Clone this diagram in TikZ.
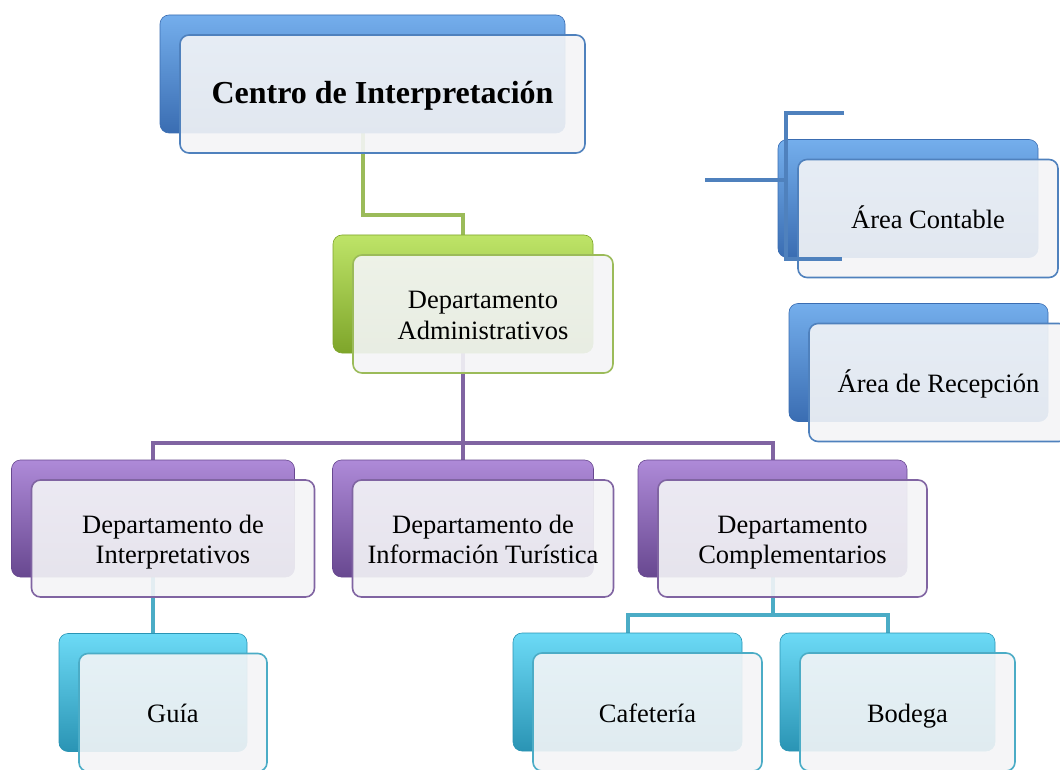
\documentclass[tikz,border=0pt]{standalone}
\usepackage{fontspec}
\setmainfont{Liberation Serif}
\usetikzlibrary{calc}
\pgfdeclarelayer{paper}
\pgfdeclarelayer{bg}
\pgfsetlayers{paper,bg,main}
\definecolor{bluetop}{HTML}{74AEEC}
\definecolor{bluemid}{HTML}{4A86D0}
\definecolor{bluebot}{HTML}{3A6DB2}
\definecolor{blueline}{HTML}{4F81BD}
\definecolor{greentop}{HTML}{BEE468}
\definecolor{greenmid}{HTML}{9CC83E}
\definecolor{greenbot}{HTML}{7EA52A}
\definecolor{greenline}{HTML}{9BBB59}
\definecolor{purpletop}{HTML}{AE8AD8}
\definecolor{purplemid}{HTML}{8A63B2}
\definecolor{purplebot}{HTML}{684890}
\definecolor{purpleline}{HTML}{8064A2}
\definecolor{cyantop}{HTML}{6CDAF6}
\definecolor{cyanmid}{HTML}{3BBCDF}
\definecolor{cyanbot}{HTML}{2A94B4}
\definecolor{cyanline}{HTML}{4BACC6}
\definecolor{frontfill}{HTML}{F4F5F7}
\tikzset{
  backbox/.style={rounded corners=9pt, top color=#1top, middle color=#1mid, bottom color=#1bot,
    draw=#1bot, line width=0.6pt, inner sep=0pt},
  frontbox/.style={rounded corners=9pt, draw=#1line, line width=1.6pt,
    fill=frontfill, fill opacity=0.9, text opacity=1, align=center,
    inner sep=0pt, font=\fontsize{26.5}{30.5}\selectfont},
  conn/.style={line width=4pt, draw=#1line},
}
\newcommand\orgbox[7]{%
  \node[backbox=#6, minimum width=#4pt, minimum height=#5pt] (#1B) at (#2,#3) {};
  \node[frontbox=#6, minimum width=#4pt, minimum height=#5pt] (#1F) at (#2+20,#3+20) {\rule{0pt}{29.5pt}#7\strut};
}
\begin{document}
\begin{tikzpicture}[x=1pt,y=-1pt]
\useasboundingbox (0,0) rectangle (1060,770);
\begin{pgfonlayer}{paper}
\fill[white] (0,0) rectangle (1060,770);
\end{pgfonlayer}
% boxes
\orgbox{c}{362.5}{74}{405}{118}{blue}{\fontsize{32}{36}\selectfont\bfseries Centro de Interpretación}
\orgbox{g}{463}{294}{260}{118}{green}{Departamento\\Administrativos}
\orgbox{pa}{153}{518.5}{283}{117}{purple}{Departamento de\\Interpretativos}
\orgbox{pb}{463}{518.5}{261}{117}{purple}{Departamento de\\Información Turística}
\orgbox{pc}{772.5}{518.5}{269}{117}{purple}{Departamento\\Complementarios}
\orgbox{gu}{153}{692.5}{188}{118}{cyan}{Guía}
\orgbox{ca}{627.5}{692}{229}{118}{cyan}{Cafetería}
\orgbox{bo}{887.5}{692}{215}{118}{cyan}{Bodega}
\orgbox{ac}{908}{198.5}{260}{118}{blue}{Área Contable}
\orgbox{ar}{918.5}{362.5}{259}{118}{blue}{Área de Recepción}
% connectors
\begin{pgfonlayer}{bg}
\draw[conn=green] (cB.south) -- ++(0,82) -| (gB.north);
\draw[conn=purple] (gB.south) -- ++(0,90) coordinate (pj);
\draw[conn=purple] (pj) -| (paB.north);
\draw[conn=purple] (pj) -| (pcB.north);
\draw[conn=purple] (pj) -- (pbB.north);
\draw[conn=cyan] (paB.south) -- (guB.north);
\draw[conn=cyan] (pcB.south) -- ++(0,38) coordinate (cj);
\draw[conn=cyan] (cj) -| (caB.north);
\draw[conn=cyan] (cj) -| (boB.north);
\end{pgfonlayer}
% loose blue lines
\coordinate (b1) at (705,180);
\coordinate (b2) at (786,180);
\coordinate (b3) at (786,113);
\coordinate (b4) at (844,113);
\coordinate (b5) at (786,259);
\coordinate (b6) at (842,259);
\draw[conn=blue] (b4) -- (b3) -- (b5) -- (b6);
\draw[conn=blue] (b1) -- (b2);
\end{tikzpicture}
\end{document}
